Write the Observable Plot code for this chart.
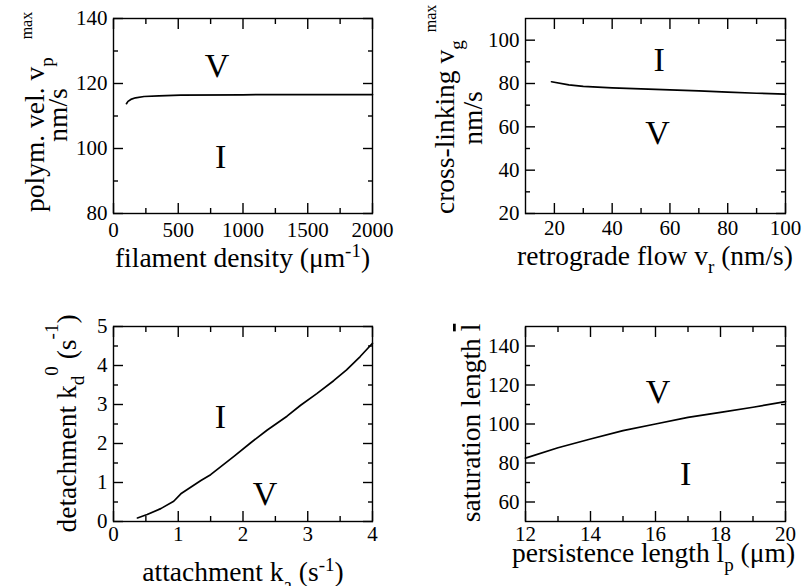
<!DOCTYPE html>
<html><head><meta charset="utf-8">
<script src="https://cdn.jsdelivr.net/npm/d3@7"></script>
<script src="https://cdn.jsdelivr.net/npm/@observablehq/plot@0.6"></script>
<style>
body{margin:0;background:#fff;}
#wrap{position:relative;width:802px;height:586px;background:#fff;overflow:hidden;}
#wrap svg{position:absolute;}
</style></head><body><div id="wrap"></div>
<script>
// ---------- data ----------
// Panel 1: polymerization velocity vs filament density
const p1Density = [100, 112, 134, 170, 236, 350, 518, 1000, 1100, 2000];
const p1Vmax = [113.8, 114.5, 115.1, 115.6, 116.0, 116.2, 116.4, 116.5, 116.6, 116.6];
const p1XTicks = [0, 500, 1000, 1500, 2000];
const p1XMinor = [250, 750, 1250, 1750];
const p1YTicks = [80, 100, 120, 140];
const p1YMinor = [90, 110, 130];
const p1RegionText = ["V", "I"];
const p1RegionX = [800, 828];
const p1RegionY = [125.5, 97.2];

// Panel 2: cross-linking velocity vs retrograde flow
const p2Flow = [19, 25, 30, 40, 50, 60, 70, 80, 90, 100];
const p2Vmax = [80.8, 79.4, 78.7, 78.0, 77.5, 77.1, 76.6, 76.0, 75.5, 75.1];
const p2XTicks = [20, 40, 60, 80, 100];
const p2XMinor = [30, 50, 70, 90];
const p2YTicks = [20, 40, 60, 80, 100];
const p2YMinor = [30, 50, 70, 90];
const p2RegionText = ["I", "V"];
const p2RegionX = [56.3, 55.7];
const p2RegionY = [90.8, 57.1];

// Panel 3: detachment vs attachment rate
const p3Attach = [0.37, 0.52, 0.73, 0.93, 1.04, 1.35, 1.5, 1.86, 2.12, 2.37, 2.68, 2.89, 3.14, 3.4, 3.6, 3.81, 4.0];
const p3Detach = [0.09, 0.18, 0.33, 0.52, 0.71, 1.05, 1.2, 1.67, 2.02, 2.34, 2.70, 2.98, 3.28, 3.61, 3.89, 4.23, 4.57];
const p3XTicks = [0, 1, 2, 3, 4];
const p3XMinor = [0.5, 1.5, 2.5, 3.5];
const p3YTicks = [0, 1, 2, 3, 4, 5];
const p3YMinor = [0.5, 1.5, 2.5, 3.5, 4.5];
const p3RegionText = ["I", "V"];
const p3RegionX = [1.65, 2.34];
const p3RegionY = [2.68, 0.71];

// Panel 4: saturation length vs persistence length
const p4Persist = [12, 13, 14, 15, 16, 17, 18, 19, 20];
const p4Length = [82.5, 87.8, 92.3, 96.6, 100, 103.4, 106, 108.6, 111.5];
const p4XTicks = [12, 14, 16, 18, 20];
const p4XMinor = [13, 15, 17, 19];
const p4YTicks = [60, 80, 100, 120, 140];
const p4YMinor = [70, 90, 110, 130];
const p4RegionText = ["V", "I"];
const p4RegionX = [16.08, 16.93];
const p4RegionY = [116.3, 74.2];

// ---------- drawing ----------
const FONT = "'Liberation Serif', 'Times New Roman', Times, serif";
const wrap = document.getElementById("wrap");
const MAJOR = 10, MINOR = 5;
const TICK_COLOR = "black";

function panel(cfg) {
  const [ml, mr, mt, mb] = cfg.m;
  const line = cfg.xs.map((x, i) => ({x, y: cfg.ys[i]}));
  const regions = cfg.rt.map((t, i) => ({t, x: cfg.rx[i], y: cfg.ry[i]}));
  // inward tick marks on all four sides
  const tk = (axis, anchor, ticks, size) =>
    axis({anchor, ticks, tickSize: -size, text: null, label: null, stroke: TICK_COLOR, strokeWidth: 1.4});
  const svg = Plot.plot({
    width: 401, height: 293,
    marginLeft: ml, marginRight: mr, marginTop: mt, marginBottom: mb,
    style: {fontFamily: FONT, fontSize: "21px", color: "black", background: "white", overflow: "visible"},
    x: {domain: cfg.xd},
    y: {domain: cfg.yd},
    marks: [
      Plot.frame({stroke: "#000", fill: "none", strokeWidth: 1.4}),
      Plot.axisX({anchor: "bottom", ticks: cfg.xt, tickSize: 0, tickPadding: cfg.xpad, label: null, tickFormat: d => String(d)}),
      Plot.axisY({anchor: "left", ticks: cfg.yt, tickSize: 0, tickPadding: 6, label: null, tickFormat: d => String(d)}),
      tk(Plot.axisX, "bottom", cfg.xt, MAJOR), tk(Plot.axisX, "top", cfg.xt, MAJOR),
      tk(Plot.axisX, "bottom", cfg.xm, MINOR), tk(Plot.axisX, "top", cfg.xm, MINOR),
      tk(Plot.axisY, "left", cfg.yt, MAJOR), tk(Plot.axisY, "right", cfg.yt, MAJOR),
      tk(Plot.axisY, "left", cfg.ym, MINOR), tk(Plot.axisY, "right", cfg.ym, MINOR),
      Plot.line(line, {x: "x", y: "y", stroke: "#000", strokeWidth: 1.7}),
      Plot.text(regions, {x: "x", y: "y", text: "t", fontSize: 34, fill: "black"})
    ]
  });
  svg.style.left = cfg.pos[0] + "px";
  svg.style.top = cfg.pos[1] + "px";
  wrap.appendChild(svg);
  return svg;
}

// parts: [text, shiftFromBaseline, fontSize, decoration, dx]
function label(svg, x, y, rot, parts, anchor = "middle") {
  const t = d3.select(svg).append("text")
    .attr("transform", `translate(${x},${y}) rotate(${rot})`)
    .attr("text-anchor", anchor)
    .attr("font-family", FONT).attr("font-size", 27.5).attr("fill", "black");
  let cur = 0;
  for (const [s, shift = 0, size, deco, dx] of parts) {
    const sp = t.append("tspan").attr("dy", shift - cur).text(s);
    if (size) sp.attr("font-size", size);
    if (deco) sp.style("text-decoration", deco);
    if (dx) sp.attr("dx", dx);
    cur = shift;
  }
}

const SUB = 19;

const s1 = panel({xs: p1Density, ys: p1Vmax, xd: [0, 2000], yd: [80, 140], xt: p1XTicks, xm: p1XMinor, yt: p1YTicks, ym: p1YMinor,
  rt: p1RegionText, rx: p1RegionX, ry: p1RegionY, m: [113, 29, 18, 80], xpad: 9, pos: [0, 0]});
label(s1, 44, 212, -90, [["polym. vel. v"], ["p", 9, SUB], ["max", -12, 16, null, 18]], "start");
label(s1, 67, 115, -90, [["nm/s"]]);
label(s1, 242.5, 267, 0, [["filament density (μm"], ["-1", -10, SUB], [")", 0]]);

const s2 = panel({xs: p2Flow, ys: p2Vmax, xd: [10, 100], yd: [20, 110], xt: p2XTicks, xm: p2XMinor, yt: p2YTicks, ym: p2YMinor,
  rt: p2RegionText, rx: p2RegionX, ry: p2RegionY, m: [124, 17, 18, 80], xpad: 7, pos: [401, 0]});
label(s2, 53, 214, -90, [["cross-linking v"], ["g", 9, SUB], ["max", -18, 16, null, 8]], "start");
label(s2, 81, 118, -90, [["nm/s"]]);
label(s2, 254, 265, 0, [["retrograde flow v"], ["r", 8, SUB], [" (nm/s)", 0]]);

const s3 = panel({xs: p3Attach, ys: p3Detach, xd: [0, 4], yd: [0, 5], xt: p3XTicks, xm: p3XMinor, yt: p3YTicks, ym: p3YMinor,
  rt: p3RegionText, rx: p3RegionX, ry: p3RegionY, m: [113, 29, 33, 65], xpad: 5, pos: [0, 293]});
label(s3, 76, 130.5, -90, [["detachment k"], ["d", 8, SUB], ["0", -18, SUB], [" (s", 0], ["-1", -18, SUB], [")", 0]]);
label(s3, 243, 288, 0, [["attachment k"], ["a", 10, SUB], [" (s", 0], ["-1", -10, SUB], [")", 0]]);

const s4 = panel({xs: p4Persist, ys: p4Length, xd: [12, 20], yd: [50, 150], xt: p4XTicks, xm: p4XMinor, yt: p4YTicks, ym: p4YMinor,
  rt: p4RegionText, rx: p4RegionX, ry: p4RegionY, m: [124, 17, 33, 65], xpad: 5, pos: [401, 293]});
label(s4, 79, 130, -90, [["saturation length "], ["l", 0, null, "overline"]]);
label(s4, 252.5, 269, 0, [["persistence length l"], ["p", 9, SUB], [" (μm)", 0]]);
</script>
</body></html>
